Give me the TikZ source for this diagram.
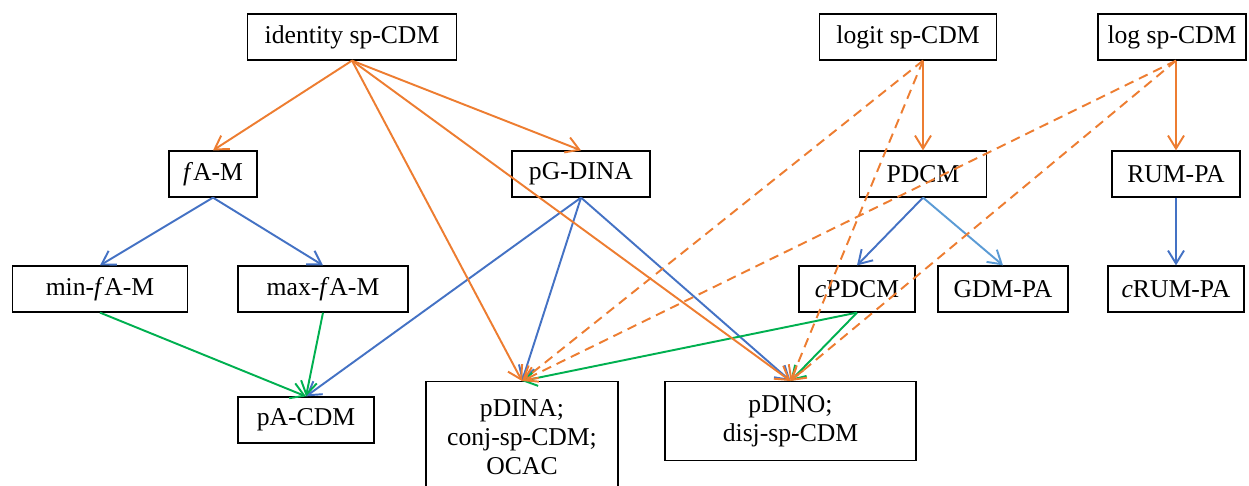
\documentclass[tikz,border=0pt]{standalone}
\usepackage{fontspec}
\setmainfont{Liberation Serif}
\usetikzlibrary{arrows.meta}
\tikzset{>={Straight Barb[length=2.6mm,width=3.2mm]}}
\definecolor{orng}{HTML}{ED7D31}
\definecolor{blu}{HTML}{4472C4}
\definecolor{lblu}{HTML}{5B9BD5}
\definecolor{grn}{HTML}{00B050}

\begin{document}
\begin{tikzpicture}[node distance=2.3cm, every node/.style={draw, rectangle, align=center, minimum height=0.92cm, line width=0.7pt, font=\fontsize{14.6}{16.5}\selectfont},
    link/.style={->, line width=1.1pt}]
    \useasboundingbox (0,0) rectangle (24.98,-9.7);
    % Nodes
    \node (Ident) [minimum width=4.18cm] at (7.04,-0.74) {identity sp-CDM};
    \node (Logit) [minimum width=3.54cm] at (18.16,-0.74) {logit sp-CDM};
    \node (Log) [minimum width=2.96cm] at (23.44,-0.74) {log sp-CDM};
    \node (FAM) [below of=Ident, xshift=-2.78cm, yshift=-0.44cm, minimum width=1.76cm] {\textit{f}A-M};
    \node (PGDINA) [below of=Ident, xshift=4.58cm, yshift=-0.44cm, minimum width=2.76cm] {pG-DINA};
    \node (PDCM) [below of=Logit, xshift=0.3cm, yshift=-0.44cm, minimum width=2.54cm] {PDCM};
    \node (RUM) [below of=Log, xshift=0.08cm, yshift=-0.44cm, minimum width=2.56cm] {RUM-PA};
    \node (MinFAM) [below of=FAM, xshift=-2.26cm, minimum width=3.5cm] {min-\textit{f}A-M};
    \node (MaxFAM) [below of=FAM, xshift=2.2cm, minimum width=3.4cm] {max-\textit{f}A-M};
    \node (CPDCM) [below of=PDCM, xshift=-1.32cm, minimum width=2.32cm] {\textit{c}PDCM};
    \node (GDM) [below of=PDCM, xshift=1.6cm, minimum width=2.6cm] {GDM-PA};
    \node (CRUM) [below of=RUM, minimum width=2.72cm] {\textit{c}RUM-PA};
    \node (PACDM) [below of=MaxFAM, xshift=-0.34cm, yshift=-0.32cm, minimum width=2.72cm] {pA-CDM};
    \node (PDINA) [anchor=north, minimum width=3.84cm, minimum height=2.24cm] at (10.44,-7.62) {pDINA;\\ conj-sp-CDM;\\ OCAC};
    \node (PDINO) [anchor=north, minimum width=5.02cm, minimum height=1.58cm] at (15.81,-7.62) {pDINO;\\ disj-sp-CDM};
    \coordinate (LogitOut) at (Logit.south -| PDCM.north);
    \coordinate (LogOut) at (Log.south -| RUM.north);

    % Arrows
    \draw[link, blu] (FAM.south) -- (MinFAM.north);
    \draw[link, blu] (FAM.south) -- (MaxFAM.north);
    \draw[link, blu] (PGDINA.south) -- (PACDM.north);
    \draw[link, blu] (PGDINA.south) -- (PDINA.north);
    \draw[link, blu] (PGDINA.south) -- (PDINO.north);
    \draw[link, blu] (PDCM.south) -- (CPDCM.north);
    \draw[link, lblu] (PDCM.south) -- (GDM.north);
    \draw[link, blu] (RUM.south) -- (CRUM.north);

    \draw[link, grn] (MinFAM.south) -- (PACDM.north);
    \draw[link, grn] (MaxFAM.south) -- (PACDM.north);
    \draw[link, grn] (CPDCM.south) -- (PDINA.north);
    \draw[link, grn] (CPDCM.south) -- (PDINO.north);

    \draw[link, orng] (Ident.south) -- (FAM.north);
    \draw[link, orng] (Ident.south) -- (PGDINA.north);
    \draw[link, orng] (Ident.south) -- (PDINA.north);
    \draw[link, orng] (Ident.south) -- (PDINO.north);
    \draw[link, orng] (LogitOut) -- (PDCM.north);
    \draw[link, orng] (LogOut) -- (RUM.north);
    \draw[link, orng, dash pattern=on 5.5pt off 3.5pt] (LogitOut) -- (PDINA.north);
    \draw[link, orng, dash pattern=on 5.5pt off 3.5pt] (LogitOut) -- (PDINO.north);
    \draw[link, orng, dash pattern=on 5.5pt off 3.5pt] (LogOut) -- (PDINA.north);
    \draw[link, orng, dash pattern=on 5.5pt off 3.5pt] (LogOut) -- (PDINO.north);
\end{tikzpicture}
\end{document}
